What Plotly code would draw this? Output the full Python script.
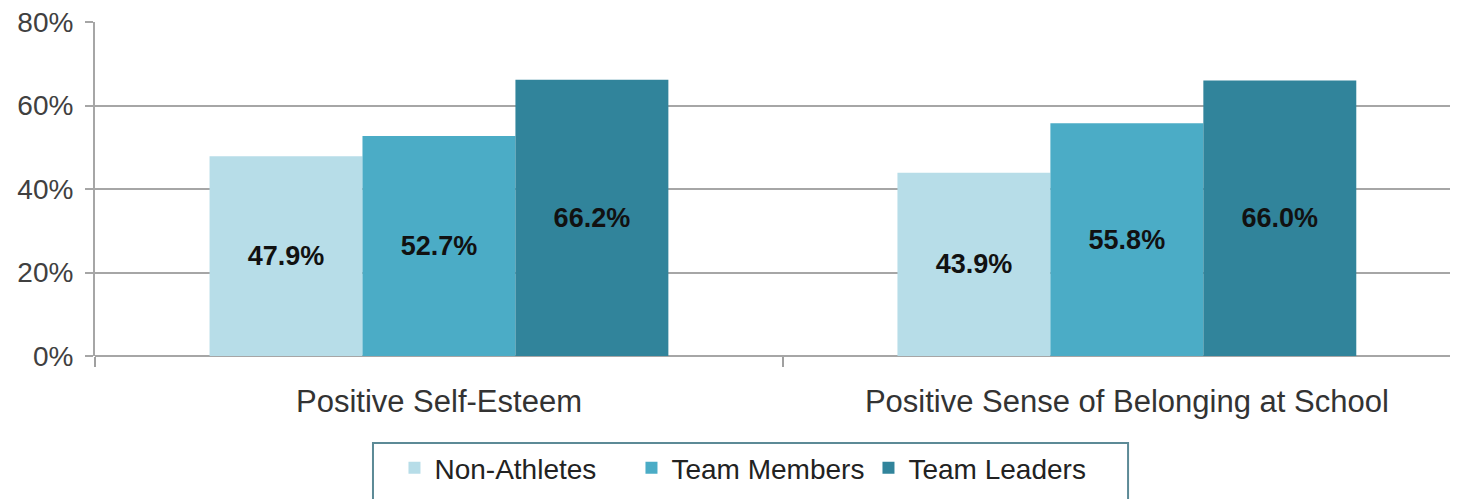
import plotly.graph_objects as go

categories = ["Positive Self-Esteem", "Positive Sense of Belonging at School"]
series_names = ["Non-Athletes", "Team Members", "Team Leaders"]
non_athletes = [47.9, 43.9]
team_members = [52.7, 55.8]
team_leaders = [66.2, 66.0]
y_ticks = [0, 20, 40, 60, 80]
y_tick_labels = ["0%", "20%", "40%", "60%", "80%"]

colors = ["#B7DDE8", "#4BACC6", "#31849B"]
values = [non_athletes, team_members, team_leaders]

fig = go.Figure()
for name, vals, col in zip(series_names, values, colors):
    fig.add_trace(go.Bar(
        x=categories, y=vals, name=name,
        marker=dict(color=col, line=dict(width=0)),
        text=[f"{v:.1f}%" for v in vals],
        textposition="inside", insidetextanchor="middle",
        textangle=0,
        textfont=dict(family="Liberation Sans, Arial", size=27, color="#111111", weight="bold"),
    ))

# note: page body has an 8px margin, so margins are offset accordingly
fig.update_layout(
    width=1458, height=499,
    barmode="group", bargap=0.333, bargroupgap=0,
    plot_bgcolor="white", paper_bgcolor="white",
    margin=dict(l=87, r=11, t=14, b=151, autoexpand=False),
    font=dict(family="Liberation Sans, Arial", color="#404040"),
    legend=dict(
        orientation="h", x=0.4816, xanchor="center", y=-0.2605, yanchor="top",
        borderwidth=0, bgcolor="rgba(0,0,0,0)",
        font=dict(size=28, color="#222222"),
        itemwidth=30, tracegroupgap=0,
        entrywidth=192,
    ),
    shapes=[dict(
        type="rect", xref="paper", yref="paper",
        x0=0.2044, x1=0.7596, y0=-0.2605, y1=-0.55,
        line=dict(color="#5C8A96", width=2), fillcolor="rgba(0,0,0,0)",
        layer="below",
    )],
)
fig.update_xaxes(
    range=[-0.5, 1.477], showgrid=False, automargin=False,
    tickson="boundaries", ticks="outside", ticklen=10, tickcolor="#A0A0A0", tickwidth=2,
    showline=False,
    ticklabelstandoff=24,
    tickfont=dict(size=31, color="#333333"),
)
fig.update_yaxes(
    range=[0, 80.05], tickvals=y_ticks, ticktext=y_tick_labels, automargin=False,
    showgrid=True, gridcolor="#A6A6A6", gridwidth=2,
    zeroline=True, zerolinecolor="#A6A6A6", zerolinewidth=2,
    showline=True, linecolor="#A6A6A6", linewidth=2,
    ticks="outside", ticklen=8, tickcolor="#A6A6A6", tickwidth=2,
    ticklabelstandoff=6, ticklabeloverflow="allow",
    tickfont=dict(size=28, color="#404040"),
)

fig.write_html("out.html")
